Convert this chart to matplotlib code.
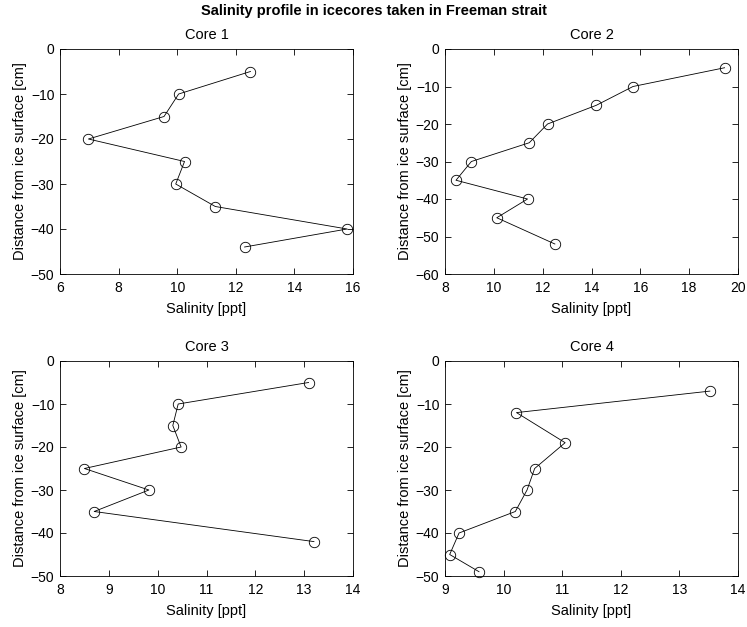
import matplotlib
matplotlib.use("Agg")
import matplotlib.pyplot as plt

plt.rcParams['font.family'] = ['Liberation Sans', 'DejaVu Sans']

core1_sal = [12.5, 10.05, 9.55, 6.97, 10.25, 9.95, 11.3, 15.8, 12.3]
core1_depth = [-5, -10, -15, -20, -25, -30, -35, -40, -44]

core2_sal = [19.45, 15.7, 14.2, 12.2, 11.45, 9.08, 8.45, 11.38, 10.12, 12.5]
core2_depth = [-5, -10, -15, -20, -25, -30, -35, -40, -45, -52]

core3_sal = [13.09, 10.42, 10.31, 10.48, 8.5, 9.82, 8.7, 13.2]
core3_depth = [-5, -10, -15, -20, -25, -30, -35, -42]

core4_sal = [13.52, 10.22, 11.05, 10.53, 10.4, 10.2, 9.24, 9.08, 9.58]
core4_depth = [-7, -12, -19, -25, -30, -35, -40, -45, -49]

titles = ['Core 1', 'Core 2', 'Core 3', 'Core 4']
xlims = [(6, 16), (8, 20), (8, 14), (9, 14)]
ylims = [(-50, 0), (-60, 0), (-50, 0), (-50, 0)]
xticks = [[6, 8, 10, 12, 14, 16], [8, 10, 12, 14, 16, 18, 20],
          [8, 9, 10, 11, 12, 13, 14], [9, 10, 11, 12, 13, 14]]

W, H = 747, 627
fig = plt.figure(figsize=(W / 100, H / 100), dpi=100)

boxes = [
    (60, 353, 49, 274),
    (445, 738, 49, 274),
    (60, 353, 361, 576),
    (445, 738, 361, 576),
]
data = [(core1_sal, core1_depth), (core2_sal, core2_depth),
        (core3_sal, core3_depth), (core4_sal, core4_depth)]

for i, ((l, r, t, b), (xs, ys)) in enumerate(zip(boxes, data)):
    ax = fig.add_axes([l / W, 1 - b / H, (r - l) / W, (b - t) / H])
    ax.plot(xs, ys, color='black', linewidth=0.6, marker='o', markersize=7.5,
            markerfacecolor='none', markeredgecolor='black', markeredgewidth=0.6,
            clip_on=False)
    ax.set_xlim(*xlims[i])
    ax.set_ylim(*ylims[i])
    ax.set_xticks(xticks[i])
    ax.tick_params(direction='in', top=True, right=True, length=4,
                   width=0.6, labelsize=10)
    ax.tick_params(axis='x', pad=5)
    ax.tick_params(axis='y', pad=4)
    for s in ax.spines.values():
        s.set_linewidth(0.6)
    ax.set_title(titles[i], fontsize=10.5, pad=7)
    ax.set_xlabel('Salinity [ppt]', fontsize=10.5, labelpad=5)
    ax.set_ylabel('Distance from ice surface [cm]', fontsize=10.5, labelpad=3)

fig.text(0.5, 1 - 11 / H, 'Salinity profile in icecores taken in Freeman strait',
         ha='center', va='center', fontsize=10.5, fontweight='bold')

fig.savefig('out.png', dpi=100)
